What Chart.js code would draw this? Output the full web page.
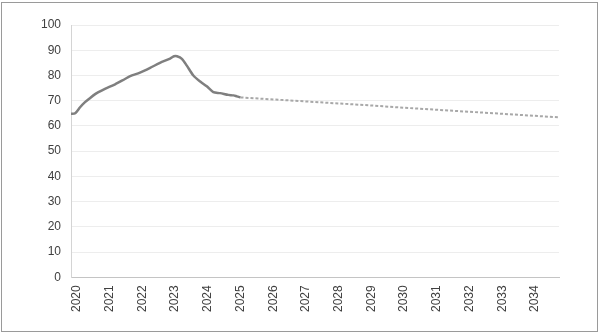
<!DOCTYPE html>
<html>
<head>
<meta charset="utf-8">
<script src="https://cdn.jsdelivr.net/npm/chart.js@4/dist/chart.umd.min.js"></script>
<style>
  html, body { margin: 0; padding: 0; background: #fff; }
  #wrap { position: relative; width: 600px; height: 334px; }
  #frame {
    position: absolute; left: 1px; top: 2px; width: 595px; height: 328px;
    border: 1.5px solid #9a9a9a; pointer-events: none;
  }
</style>
</head>
<body>
<div id="wrap">
  <canvas id="chart" width="600" height="334"></canvas>
  <div id="frame"></div>
</div>
<script>
// ================= DATA =================
// recorded index (solid) — time in decimal years
const solidYears = [2019.82, 2019.95, 2020.10, 2020.25, 2020.40, 2020.56, 2020.66, 2020.86,
  2021.17, 2021.47, 2021.63, 2021.93, 2022.24, 2022.54, 2022.85, 2022.97, 2023.06,
  2023.21, 2023.36, 2023.56, 2023.77, 2023.97, 2024.17, 2024.38, 2024.63, 2024.79,
  2024.89, 2025.00];
const solidValues = [64.8, 65.0, 67.4, 69.4, 71.0, 72.6, 73.4, 74.7,
  76.5, 78.6, 79.7, 81.1, 83.0, 85.0, 86.7, 87.6, 87.6,
  86.6, 83.9, 80.0, 77.6, 75.7, 73.4, 73.0, 72.3, 72.1,
  71.7, 71.3];

// projection (dotted)
const trendYears = [2025, 2026, 2027, 2028, 2029, 2030, 2031, 2032, 2033, 2034, 2034.73];
const trendValues = [71.3, 70.5, 69.7, 68.9, 68.1, 67.2, 66.4, 65.6, 64.8, 64.0, 63.4];

// axis labels
const tickYears = [2020, 2021, 2022, 2023, 2024, 2025, 2026, 2027, 2028, 2029, 2030, 2031, 2032, 2033, 2034];
const yMin = 0, yMax = 100, yStep = 10;

const toPoints = (xs, ys) => xs.map((x, i) => ({ x: x, y: ys[i] }));

// ================= CHART =================
const labelFont = { family: "'Liberation Sans', Arial, sans-serif", size: 12 };

new Chart(document.getElementById("chart"), {
  type: "line",
  data: {
    datasets: [
      {
        data: toPoints(solidYears, solidValues),
        borderColor: "#7f7f7f",
        borderWidth: 2.5,
        pointRadius: 0,
        tension: 0.25,
        order: 0
      },
      {
        data: toPoints(trendYears, trendValues),
        borderColor: "#a8a8a8",
        borderWidth: 2,
        borderDash: [3, 2],
        pointRadius: 0,
        tension: 0,
        order: 1
      }
    ]
  },
  options: {
    responsive: false,
    animation: false,
    layout: { padding: { left: 31, top: 25, right: 41, bottom: 14 } },
    plugins: { legend: { display: false }, tooltip: { enabled: false } },
    scales: {
      x: {
        type: "linear",
        min: 2019.823,
        max: 2034.73,
        afterBuildTicks: axis => { axis.ticks = tickYears.map(v => ({ value: v })); },
        ticks: {
          autoSkip: false,
          minRotation: 90,
          maxRotation: 90,
          padding: 8,
          color: "#404040",
          font: labelFont,
          callback: v => String(v)
        },
        grid: { display: false, drawTicks: false },
        border: { display: true, color: "#c4c4c4", width: 1 }
      },
      y: {
        min: yMin,
        max: yMax,
        ticks: { stepSize: yStep, padding: 10, color: "#404040", font: labelFont },
        grid: { color: "#ededed", drawTicks: false },
        border: { display: true, color: "#d4d4d4", width: 1 }
      }
    }
  }
});
</script>
</body>
</html>
